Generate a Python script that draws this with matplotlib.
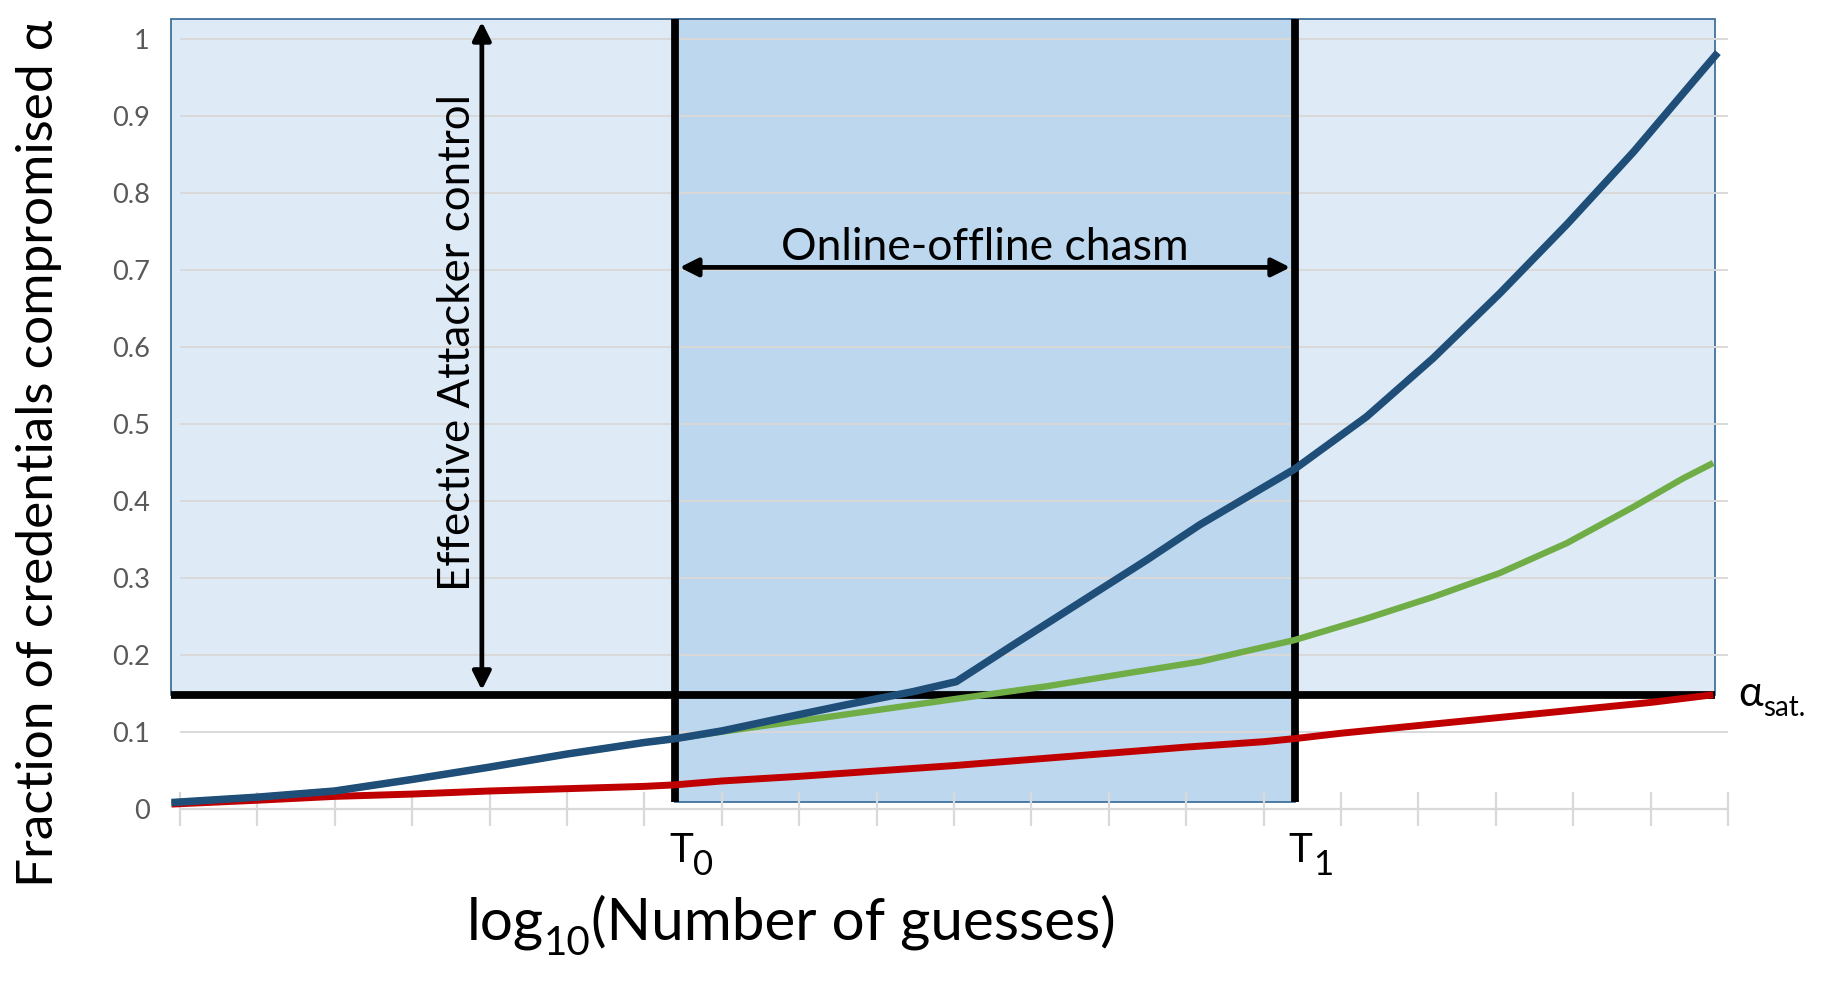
import matplotlib
matplotlib.use('Agg')
import matplotlib.pyplot as plt
from matplotlib.patches import Rectangle, FancyArrowPatch, ArrowStyle

W, H = 1821, 982
plt.rcParams['font.family'] = ['Lato', 'DejaVu Sans']

# ---------------- data ----------------
x_ticks = list(range(0, 21))
y_ticks = [0, 0.1, 0.2, 0.3, 0.4, 0.5, 0.6, 0.7, 0.8, 0.9, 1.0]
y_tick_labels = ['0', '0.1', '0.2', '0.3', '0.4', '0.5', '0.6', '0.7', '0.8', '0.9', '1']

blue_x = [-0.11, 1, 2, 3, 4, 5, 6, 6.4, 7, 7.75, 8.61, 9.47, 10.03, 10.77, 11.63, 12.49,
          13.18, 14.40, 15.33, 16.19, 17.05, 17.92, 18.78, 19.64, 19.87]
blue_y = [0.008, 0.015, 0.023, 0.038, 0.054, 0.071, 0.086, 0.091, 0.101, 0.117, 0.135, 0.152,
          0.165, 0.213, 0.268, 0.323, 0.369, 0.441, 0.509, 0.585, 0.669, 0.759, 0.853, 0.955, 0.982]

green_x = [-0.11, 1, 2, 3, 4, 5, 6, 6.4, 7, 8.40, 9.91, 11.20, 12.49, 13.18, 14.40, 15.33,
           16.19, 17.05, 17.92, 18.78, 19.42, 19.81]
green_y = [0.008, 0.015, 0.023, 0.038, 0.054, 0.071, 0.086, 0.091, 0.100, 0.1195, 0.141, 0.159,
           0.180, 0.191, 0.219, 0.247, 0.275, 0.306, 0.345, 0.392, 0.429, 0.449]

red_x = [-0.11, 1, 2, 3, 4, 5, 6, 6.4, 7, 8, 9, 10, 11, 12, 13, 14, 14.4, 15, 16, 17, 18, 19, 19.81]
red_y = [0.006, 0.011, 0.016, 0.019, 0.023, 0.026, 0.029, 0.031, 0.036, 0.042, 0.049, 0.056,
         0.064, 0.072, 0.080, 0.087, 0.091, 0.098, 0.108, 0.118, 0.128, 0.138, 0.148]

T0, T1 = 6.4, 14.4
alpha_sat = 0.148
region_left, region_right = -0.115, 19.83
region_top = 1.025
chasm_bottom = 0.009
attacker_arrow_x = 3.9
chasm_arrow_y = 0.703

# ---------------- figure ----------------
fig = plt.figure(figsize=(W / 100, H / 100), dpi=100)
ax = fig.add_axes([156.78 / W, 127.1 / H, 1594.4 / W, 847.0 / H])
ax.set_xlim(-0.3, 20.3)
ax.set_ylim(-0.06, 1.04)
for s in ax.spines.values():
    s.set_visible(False)
ax.set_xticks([])
ax.set_yticks(y_ticks)
ax.set_yticklabels(y_tick_labels)
ax.tick_params(axis='y', length=0, pad=5.0, labelsize=19.5, labelcolor='#595959')
ax.patch.set_alpha(0)

# shaded regions
ax.add_patch(Rectangle((region_left, alpha_sat), region_right - region_left, region_top - alpha_sat,
                       facecolor='#DEEBF7', edgecolor='#41719C', lw=1.3, zorder=1))
ax.add_patch(Rectangle((T0, chasm_bottom), T1 - T0, region_top - chasm_bottom,
                       facecolor='#BDD7EE', edgecolor='#41719C', lw=1.3, zorder=1.1))

# gridlines, axis line and ticks
grid_col = '#D9D9D9'
ax.hlines(y_ticks[1:], x_ticks[0], x_ticks[-1], color=grid_col, lw=1.4, zorder=2)
ax.hlines(0, x_ticks[0], x_ticks[-1], color=grid_col, lw=1.6, zorder=2)
ax.vlines(x_ticks, -0.022, 0.022, color=grid_col, lw=1.6, zorder=2)

# black boundary lines
ax.vlines([T0, T1], chasm_bottom, region_top, color='black', lw=5.6, zorder=3)
ax.hlines(alpha_sat, region_left, region_right, color='black', lw=5.6, zorder=3)

# curves
ax.plot(red_x, red_y, color='#C00000', lw=5.0, zorder=4, solid_capstyle='butt', solid_joinstyle='round')
ax.plot(green_x, green_y, color='#70AD47', lw=4.6, zorder=5, solid_capstyle='butt', solid_joinstyle='round')
ax.plot(blue_x, blue_y, color='#1F4E79', lw=5.4, zorder=6, solid_capstyle='butt', solid_joinstyle='round')

# arrows
style = ArrowStyle('<|-|>', head_length=11, head_width=5.5)
ax.add_patch(FancyArrowPatch((attacker_arrow_x, region_top - 0.003), (attacker_arrow_x, alpha_sat + 0.006),
                             arrowstyle=style, mutation_scale=1, lw=3.4, color='black',
                             shrinkA=0, shrinkB=0, zorder=7))
ax.add_patch(FancyArrowPatch((T0 + 0.055, chasm_arrow_y), (T1 - 0.055, chasm_arrow_y),
                             arrowstyle=style, mutation_scale=1, lw=3.4, color='black',
                             shrinkA=0, shrinkB=0, zorder=7))

# annotations inside the chart
ax.text((T0 + T1) / 2, 0.712, 'Online-offline chasm', ha='center', va='baseline',
        fontsize=32, color='black', zorder=8)
ax.text(3.747, 0.605, 'Effective Attacker control', rotation=90, rotation_mode='anchor',
        ha='center', va='baseline', fontsize=31.5, color='black', zorder=8)

# y label
fig.text(53 / W, 1 - 887 / H, 'Fraction of credentials compromised α', rotation=90,
         rotation_mode='anchor', ha='left', va='baseline', fontsize=37, color='black')

renderer = fig.canvas.get_renderer()


def chain(parts, x_px, y_px, center=False):
    """parts: list of (text, size, dy_px). x_px, y_px in display pixels (y from bottom)."""
    texts = []
    for s, size, dy in parts:
        t = fig.text(0, 0, s, fontsize=size, ha='left', va='baseline', color='black')
        texts.append((t, dy))
    widths = [t.get_window_extent(renderer).width for t, _ in texts]
    total = sum(widths)
    x = x_px - total / 2 if center else x_px
    for (t, dy), w in zip(texts, widths):
        t.set_position((x / W, (y_px + dy) / H))
        x += w


# x label
chain([('log', 42, 0), ('10', 29, -16), ('(Number of guesses)', 42, 0)], 791, H - 939, center=True)

# T0 / T1 labels
for T, sub in [(T0, '0'), (T1, '1')]:
    px, _ = ax.transData.transform((T + 0.08, 0))
    tt = fig.text(0, 0, 'T', fontsize=29, ha='left', va='baseline')
    wT = tt.get_window_extent(renderer).width
    tt.remove()
    chain([('T', 29, 0), (sub, 25, -12.7)], px - wT / 2, H - 862.3)

# alpha_sat label
px, _ = ax.transData.transform((20.13, 0))
chain([('α', 30, 0), ('sat.', 20, -10)], px, H - 706)

fig.savefig('out.png', dpi=100)
